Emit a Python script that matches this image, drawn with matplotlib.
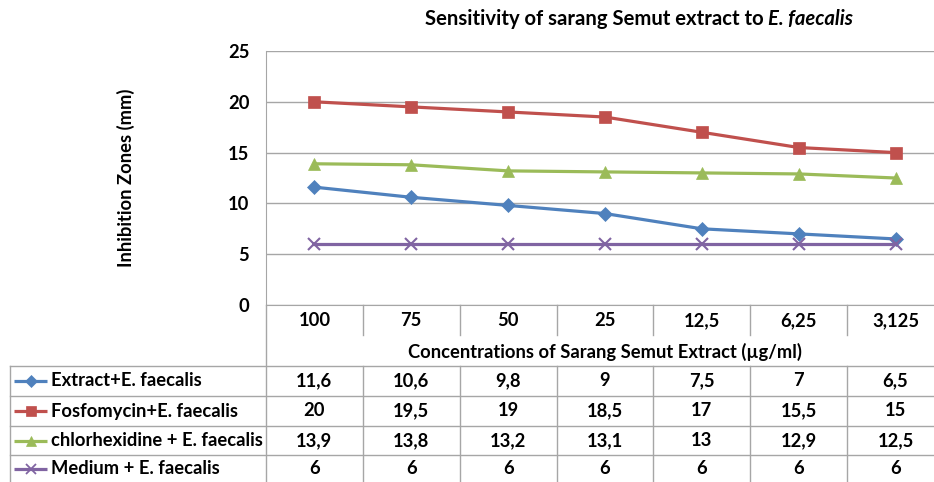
import matplotlib
matplotlib.use("Agg")
import matplotlib.pyplot as plt
import matplotlib.transforms as mtransforms

plt.rcParams["font.family"] = ["Lato", "DejaVu Sans"]
plt.rcParams["font.weight"] = "bold"

# ── data ──────────────────────────────────────────────────────────────────────
concentrations = ["100", "75", "50", "25", "12,5", "6,25", "3,125"]
series_names = ["Extract+E. faecalis", "Fosfomycin+E. faecalis",
                "chlorhexidine + E. faecalis", "Medium + E. faecalis"]
extract = [11.6, 10.6, 9.8, 9, 7.5, 7, 6.5]
fosfomycin = [20, 19.5, 19, 18.5, 17, 15.5, 15]
chlorhexidine = [13.9, 13.8, 13.2, 13.1, 13, 12.9, 12.5]
medium = [6, 6, 6, 6, 6, 6, 6]
yticks = [0, 5, 10, 15, 20, 25]

COLORS = ["#4F81BD", "#C0504D", "#9BBB59", "#8064A2"]
MARKERS = ["D", "s", "^", "x"]
MSIZE = [7.5, 8.5, 8.5, 8.5]
GRID = "#A6A6A6"
FS = 13.2

W, H = 934, 482
fig = plt.figure(figsize=(W / 100, H / 100), dpi=100)

# overlay in pixel coordinates for the data table
ov = fig.add_axes([0, 0, 1, 1], zorder=0)
ov.set_xlim(0, W)
ov.set_ylim(H, 0)
ov.axis("off")

ax = fig.add_axes([266 / W, 177 / H, 678 / W, 254 / H], zorder=1)
ax.patch.set_visible(False)
xs = list(range(len(concentrations)))
all_series = [extract, fosfomycin, chlorhexidine, medium]
for vals, c, m, ms in zip(all_series, COLORS, MARKERS, MSIZE):
    ax.plot(xs, vals, color=c, lw=2.3, marker=m, ms=ms,
            mew=1.5 if m == "x" else 0.5, mec=c, zorder=3, clip_on=False)

ax.set_xlim(-0.5, len(concentrations) - 0.5)
ax.set_ylim(0, 25)
ax.set_yticks(yticks)
ax.set_xticks([])
ax.tick_params(axis="y", length=0, pad=12, labelsize=FS)
for lab in ax.get_yticklabels():
    lab.set_fontweight("bold")
ax.grid(axis="y", color=GRID, lw=1)
ax.set_axisbelow(True)
for s in ["top", "right"]:
    ax.spines[s].set_visible(False)
for s in ["left", "bottom"]:
    ax.spines[s].set_color(GRID)
ax.set_ylabel("Inhibition Zones (mm)", fontsize=FS, fontweight="bold")
ax.yaxis.set_label_coords(-0.193, 0.5)

# title: regular bold part + bold italic species name
t1 = ov.text(425, 19, "Sensitivity of sarang Semut extract to ", fontsize=14.6,
             fontweight="bold", ha="left", va="center")
ov.annotate("E. faecalis", xy=(1, 0.5), xycoords=t1, va="center", ha="left",
            fontsize=14.6, fontweight="bold", fontstyle="italic")

# ── data table ────────────────────────────────────────────────────────────────
trans = mtransforms.blended_transform_factory(ax.transData, ov.transData)
lkw = dict(color=GRID, lw=1, clip_on=False)

# category label row
for i, lab in enumerate(concentrations):
    ov.text(i, 321, lab, transform=trans, ha="center", va="center",
            fontsize=FS, fontweight="bold")
for i in range(len(concentrations)):
    ov.plot([i + 0.5, i + 0.5], [305, 335], transform=trans, **lkw)
ov.text(len(concentrations) / 2 - 0.5, 352,
        "Concentrations of Sarang Semut Extract (µg/ml)", transform=trans,
        ha="center", va="center", fontsize=FS, fontweight="bold")

# grid of the value rows
row_top = [366, 396, 426, 455]
row_mid = [381, 411, 440.5, 469]
ov.plot([-0.5, -0.5], [305, H], transform=trans, **lkw)
ov.plot([10, 10], [366, H], **lkw)
for y in row_top:
    ov.plot([10, W], [y, y], **lkw)
for i in range(len(concentrations)):
    ov.plot([i + 0.5, i + 0.5], [366, H], transform=trans, **lkw)

for y, name, vals, c, m in zip(row_mid, series_names, all_series, COLORS, MARKERS):
    ov.plot([14, 47], [y, y], color=c, lw=2.3, solid_capstyle="butt")
    ov.plot([30.5], [y], color=c, marker=m, ms=6.5 if m != "D" else 6,
            mew=1.3 if m == "x" else 0.5, mec=c)
    ov.text(51, y, name, ha="left", va="center", fontsize=FS, fontweight="bold")
    for i, v in enumerate(vals):
        ov.text(i, y, f"{v:g}".replace(".", ","), transform=trans, ha="center",
                va="center", fontsize=FS, fontweight="bold")

fig.savefig("out.png", dpi=100)
